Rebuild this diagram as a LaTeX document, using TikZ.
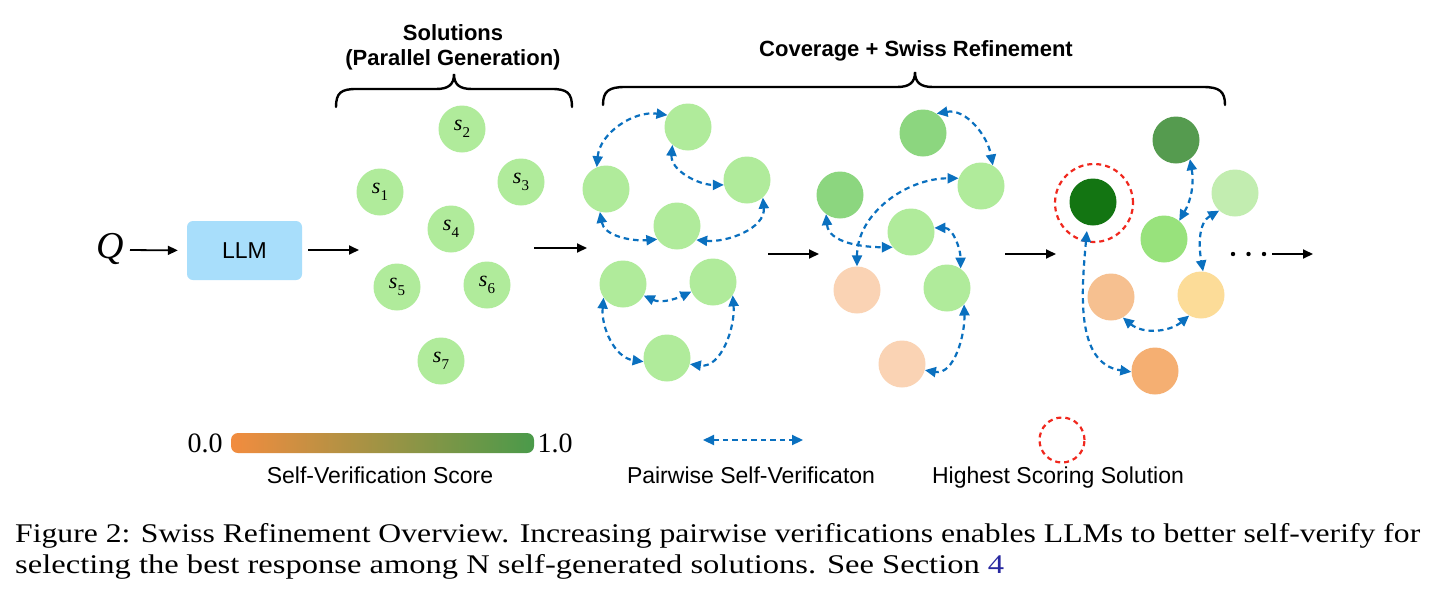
\documentclass[tikz,border=0pt]{standalone}
\usepackage{fontspec}
\setmainfont{Liberation Serif}
\setsansfont{Liberation Sans}
\usetikzlibrary{arrows.meta}
\newcommand\capfont{\rmfamily\fontsize{27}{27}\selectfont}
\newcommand\sol[1]{\textit{s}\raisebox{-0.3em}{\fontsize{15}{15}\selectfont #1}}
\newcommand\capone{Figure 2: Swiss Refinement Overview. Increasing pairwise verifications enables LLMs to better self-verify for}
\definecolor{refblue}{RGB}{40,40,160}
\newcommand\captwo{selecting the best response among N self-generated solutions. See Section \textcolor{refblue}{4}}
\newlength\capw
\newlength\capwb
\definecolor{lg}{HTML}{B0EB9B}
\definecolor{mg}{HTML}{8CD67F}
\definecolor{pch}{HTML}{FAD3B4}
\definecolor{cbest}{HTML}{137512}
\definecolor{cA}{HTML}{559B4F}
\definecolor{cC}{HTML}{C2EDB0}
\definecolor{cD}{HTML}{98E27C}
\definecolor{cE}{HTML}{F6C090}
\definecolor{cF}{HTML}{FCDC98}
\definecolor{cG}{HTML}{F5AF72}
\definecolor{vblue}{HTML}{0A70BF}
\definecolor{llmblue}{HTML}{A8DEFB}
\definecolor{ringred}{HTML}{F0281E}
\definecolor{gor}{HTML}{F28C3F}
\definecolor{ggr}{HTML}{4A9A4A}
\begin{document}
\settowidth\capw{\capfont\capone}%
\settowidth\capwb{\capfont\captwo}%
\edef\capsc{\fpeval{1405pt/\capw}}%
\edef\capscb{\fpeval{989pt/\capwb}}%
\begin{tikzpicture}[x=1pt,y=1pt,
  solnode/.style={circle,minimum size=47pt,inner sep=0pt,draw=none,font=\fontsize{22}{22}\selectfont},
  ver/.style={draw=vblue,line width=2.2pt,dash pattern=on 5.5pt off 4pt,
    {Triangle[length=11pt,width=10pt]}-{Triangle[length=11pt,width=10pt]}},
  flow/.style={draw=black,line width=1.8pt,-{Triangle[length=10pt,width=9pt]}},
  brace/.style={draw=black,line width=2.4pt,line cap=round},
  lbl/.style={font=\sffamily\fontsize{23}{23}\selectfont,inner sep=0pt,anchor=base},
  ttl/.style={font=\sffamily\bfseries\fontsize{22}{25}\selectfont,align=center,inner sep=0pt,anchor=base},
  ring/.style={circle,draw=ringred,line width=2.2pt,dash pattern=on 5pt off 4pt,inner sep=0pt},
  capnode/.style={anchor=base west,inner sep=0pt,font=\capfont}
]
\useasboundingbox (0,0) rectangle (1435,-595);
\fill[white] (0,0) rectangle (1435,-595);

% Q and LLM
\node[font=\fontsize{38}{38}\selectfont\itshape,inner sep=0pt] (q) at (110,-249) {Q};
\node[fill=llmblue,rounded corners=6pt,minimum width=115pt,minimum height=59pt,inner sep=0pt,
  font=\sffamily\fontsize{23}{23}\selectfont] (llm) at (244.5,-250.5) {LLM};
\coordinate (q1) at (130,-250);
\draw[flow] (q1) -- (llm.west) [shorten >=9pt];
\coordinate (l1) at (308,-250);
\coordinate (l2) at (359,-250);
\draw[flow] (l1) -- (l2);

% solutions
\node[solnode,fill=lg] (s2) at (462,-129) {\sol{2}};
\node[solnode,fill=lg] (s1) at (380,-192) {\sol{1}};
\node[solnode,fill=lg] (s3) at (521,-182) {\sol{3}};
\node[solnode,fill=lg] (s4) at (451,-229) {\sol{4}};
\node[solnode,fill=lg] (s5) at (397,-287) {\sol{5}};
\node[solnode,fill=lg] (s6) at (487,-285) {\sol{6}};
\node[solnode,fill=lg] (s7) at (441,-361) {\sol{7}};

% brace 1
\draw[brace] (336,-107) .. controls (336,-93) and (341,-89) .. (356,-89) -- (436,-89)
  .. controls (448,-89) and (454,-85) .. (454,-74) .. controls (454,-85) and (460,-89) .. (472,-89)
  -- (552,-89) .. controls (567,-89) and (572,-93) .. (572,-107);
\node[ttl] (t1) at (453,-65) {Solutions\\(Parallel Generation)};

% brace 2
\draw[brace] (603,-105) .. controls (603,-91) and (609,-87) .. (625,-87) -- (897,-87)
  .. controls (909,-87) and (915,-83) .. (915,-72) .. controls (915,-83) and (921,-87) .. (933,-87)
  -- (1203,-87) .. controls (1219,-87) and (1225,-91) .. (1225,-105);
\node[ttl] (t2) at (916,-56) {Coverage + Swiss Refinement};

\coordinate (a1s) at (534,-248);
\coordinate (a1e) at (587,-248);
\draw[flow] (a1s) -- (a1e);

% cluster 1
\node[solnode,fill=lg] (A) at (688,-127) {};
\node[solnode,fill=lg] (B) at (606,-189) {};
\node[solnode,fill=lg] (C) at (747,-180) {};
\node[solnode,fill=lg] (D) at (677,-226) {};
\node[solnode,fill=lg] (E) at (623,-284) {};
\node[solnode,fill=lg] (F) at (713,-282) {};
\node[solnode,fill=lg] (G) at (667,-358) {};
\draw[ver] (B.113) to[out=85,in=172] (A.150);
\draw[ver] (A.229) to[out=-95,in=180] (C.192);
\draw[ver] (B.255) to[out=-80,in=185] (D.214);
\draw[ver] (C.312) to[out=-85,in=-5] (D.324);
\draw[ver] (E.331) to[out=-25,in=-155] (F.204);
\draw[ver] (E.215) to[out=-95,in=172] (G.189);
\draw[ver] (F.326) to[out=-85,in=-8] (G.345);

\coordinate (a2s) at (768,-254);
\coordinate (a2e) at (819,-254);
\draw[flow] (a2s) -- (a2e);

% cluster 2
\node[solnode,fill=mg] (A2) at (923,-133) {};
\node[solnode,fill=mg] (B2) at (840,-195) {};
\node[solnode,fill=lg] (C2) at (981,-186) {};
\node[solnode,fill=lg] (D2) at (911,-232) {};
\node[solnode,fill=pch] (E2) at (857,-290) {};
\node[solnode,fill=lg] (F2) at (947,-288) {};
\node[solnode,fill=pch] (G2) at (902,-364) {};
\draw[ver] (A2.55) to[out=10,in=100] (C2.60);
\draw[ver] (E2.90) to[out=90,in=180] (C2.161);
\draw[ver] (B2.234) to[out=-85,in=180] (D2.220);
\draw[ver] (D2.10) to[out=0,in=90] (F2.55);
\draw[ver] (F2.316) to[out=-88,in=-10] (G2.345);

\coordinate (a3s) at (1005,-254);
\coordinate (a3e) at (1056,-254);
\draw[flow] (a3s) -- (a3e);

% cluster 3
\node[solnode,fill=cbest] (B3) at (1093,-202) {};
\node[ring,minimum size=78pt] (rg) at (1094,-203) {};
\node[solnode,fill=cA] (A3) at (1176,-140) {};
\node[solnode,fill=cC] (C3) at (1235,-193) {};
\node[solnode,fill=cD] (D3) at (1164,-239) {};
\node[solnode,fill=cE] (E3) at (1111,-297) {};
\node[solnode,fill=cF] (F3) at (1201,-295) {};
\node[solnode,fill=cG] (G3) at (1155,-371) {};
\path (B3.255) ++(0,-6) coordinate (b3s);
\draw[ver] (b3s) to[out=-95,in=172] (G3.182);
\draw[ver] (A3.306) to[out=-80,in=60] (D3.50);
\draw[ver] (C3.228) to[out=210,in=100] (F3.85);
\draw[ver] (E3.300) to[out=-40,in=-140] (F3.240);

\fill (1233,-254) circle (2.2pt);
\fill (1248.5,-254) circle (2.2pt);
\fill (1264,-254) circle (2.2pt);
\coordinate (a4s) at (1272,-254);
\coordinate (a4e) at (1313,-254);
\draw[flow] (a4s) -- (a4e);

% legend
\shade[left color=gor,right color=ggr,rounded corners=7pt] (231,-433) rectangle (534,-453);
\node[font=\fontsize{28}{28}\selectfont,inner sep=0pt,anchor=base] (z0) at (205,-452) {0.0};
\node[font=\fontsize{28}{28}\selectfont,inner sep=0pt,anchor=base] (z1) at (555,-452) {1.0};
\node[lbl] (svs) at (380,-483) {Self-Verification Score};
\coordinate (lv1) at (703,-440);
\coordinate (lv2) at (803,-440);
\draw[ver] (lv1) -- (lv2);
\node[lbl] (psv) at (751,-483) {Pairwise Self-Verificaton};
\node[ring,minimum size=45pt] (lring) at (1062,-440) {};
\node[lbl] (hss) at (1058,-483) {Highest Scoring Solution};

% caption
\node[capnode] (cap1) at (15,-542) {\scalebox{\capsc}[1]{\capone}};
\node[capnode] (cap2) at (15,-573) {\scalebox{\capscb}[1]{\captwo}};
\end{tikzpicture}
\end{document}
